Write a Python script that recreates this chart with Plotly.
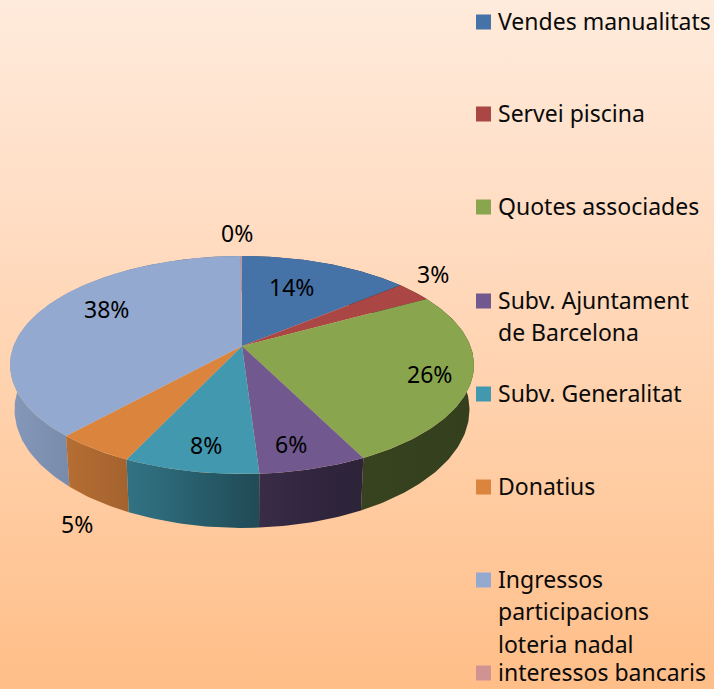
import numpy as np
import plotly.graph_objects as go

# ---- data -------------------------------------------------------------
categories = ["Vendes manualitats", "Servei piscina", "Quotes associades",
              "Subv. Ajuntament de Barcelona", "Subv. Generalitat", "Donatius",
              "Ingressos participacions loteria nadal", "interessos bancaris"]
values = [14.0, 3.0, 25.6, 6.4, 8.0, 4.7, 38.2, 0.1]
colors = ["#4572A7", "#AA4643", "#89A54E", "#71588F", "#4198AF", "#DB843D", "#93A9CF", "#D19392"]

# ---- layout of the picture (pixel space) --------------------------------
W, H = 714, 689
CX, K = 242.0, 0.1743
TOP = dict(cy=346.0, rx=228.4, ry=105.7)
BOT = dict(cy=389.0, rx=224.0, ry=114.7)
label_pos = [(291, 287), (433, 274), (429, 374), (291, 444), (206, 445), (77, 524), (106, 309), (237, 233)]
legend_y = [21, 113, 206, 300, 393, 486, 579, 672]
legend_lines = [["Vendes manualitats"], ["Servei piscina"], ["Quotes associades"],
                ["Subv. Ajuntament", "de Barcelona"], ["Subv. Generalitat"], ["Donatius"],
                ["Ingressos", "participacions", "loteria nadal"], ["interessos bancaris"]]
LINE_H = 32.3
FONT = "'Noto Sans', Lato, sans-serif"
FS_LEG, FS_LAB = 23, 23


def project(theta, d):
    u, v = np.sin(theta), -np.cos(theta)
    den = 1 - K * v
    return CX + d["rx"] * u / den, d["cy"] + d["ry"] * v / den


def blend(hex_color, f):
    r, g, b = (int(hex_color[i:i + 2], 16) for i in (1, 3, 5))
    return f"rgb({r * f:.0f},{g * f:.0f},{b * f:.0f})"


def shade(x):
    u = (x - CX) / 232
    return float(np.interp(u, [-1, -0.6, -0.4, 0, 0.4, 1], [0.90, 0.78, 0.72, 0.52, 0.41, 0.38]))


fig = go.Figure()

# page background gradient
fig.add_trace(go.Scatter(
    x=[0, W, W, 0, 0], y=[0, 0, H, H, 0], mode="lines", line=dict(width=0), fill="toself",
    fillgradient=dict(type="vertical", start=0, stop=H,
                      colorscale=[[0, "#FFEBDC"], [0.33, "#FFDCC2"], [0.66, "#FFCEA6"], [1, "#FFBE88"]]),
    hoverinfo="skip", showlegend=False))

edges = np.cumsum([0] + values) / sum(values) * 2 * np.pi
mid = (edges[:-1] + edges[1:]) / 2
order = np.argsort(-np.abs(mid - np.pi))

# side wall, back to front
for i in order:
    th = np.linspace(edges[i], edges[i + 1], max(int(np.degrees(edges[i + 1] - edges[i])), 2) + 1)
    xt, yt = project(th, TOP)
    xb, yb = project(th[::-1], BOT)
    xs = np.linspace(10, 474, 21)
    cs = [[(x - 10) / 464, blend(colors[i], shade(x))] for x in xs]
    fig.add_trace(go.Scatter(
        x=np.r_[xt, xb, xt[0]], y=np.r_[yt, yb, yt[0]], mode="lines", line=dict(width=0),
        fill="toself", fillgradient=dict(type="horizontal", start=10, stop=474, colorscale=cs),
        hoverinfo="skip", showlegend=False))

# top face
for i in range(len(values)):
    th = np.linspace(edges[i], edges[i + 1], max(int(np.degrees(edges[i + 1] - edges[i])), 2) + 1)
    xt, yt = project(th, TOP)
    fig.add_trace(go.Scatter(
        x=np.r_[CX, xt, CX], y=np.r_[TOP["cy"], yt, TOP["cy"]], mode="lines",
        line=dict(width=0), fill="toself", fillcolor=colors[i],
        name=categories[i], hoverinfo="name", showlegend=False))

# legend swatches
fig.add_trace(go.Scatter(
    x=[483.5] * len(categories), y=[y + 1 for y in legend_y], mode="markers",
    marker=dict(symbol="square", size=15, color=colors, line=dict(width=0)),
    hoverinfo="skip", showlegend=False))

ann = []
for v, (x, y) in zip(values, label_pos):
    ann.append(dict(x=x, y=y, text=f"{round(v)}%", xanchor="center", yanchor="middle", showarrow=False,
                    font=dict(family=FONT, size=FS_LAB, color="#000000")))
for y0, lines in zip(legend_y, legend_lines):
    for j, t in enumerate(lines):
        ann.append(dict(x=497, y=y0 + j * LINE_H, text=t, xanchor="left", yanchor="middle", showarrow=False,
                        xshift=-1, font=dict(family=FONT, size=FS_LEG, color="#0A0A0A")))

fig.update_layout(
    width=W, height=H, margin=dict(l=0, r=0, t=0, b=0),
    paper_bgcolor="#FFD9BC", plot_bgcolor="rgba(0,0,0,0)",
    xaxis=dict(range=[0, W], visible=False, fixedrange=True),
    yaxis=dict(range=[H, 0], visible=False, fixedrange=True),
    annotations=ann, showlegend=False)

fig.write_html("out.html", config=dict(displayModeBar=False),
               post_script="document.body.style.margin='0';document.body.style.overflow='hidden';")
